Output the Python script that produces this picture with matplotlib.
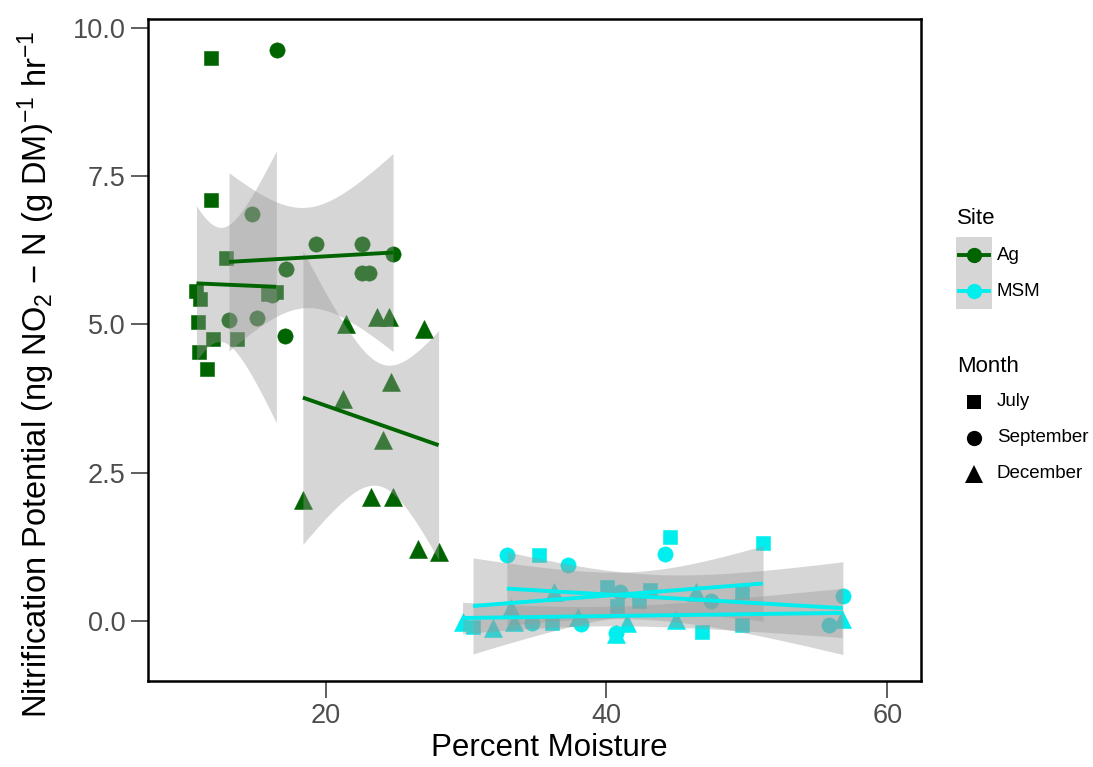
import math
import numpy as np
import matplotlib
matplotlib.use("Agg")
import matplotlib.pyplot as plt
from matplotlib import font_manager
from matplotlib.lines import Line2D
from matplotlib.patches import Rectangle

# ---- data: percent moisture (x) and nitrification potential (y) ----
ag_july_x = [11.83, 11.88, 12.89, 10.81, 11.04, 15.90, 16.50, 10.92, 12.00, 13.73, 11.00, 11.56]
ag_july_y = [9.50, 7.09, 6.12, 5.57, 5.43, 5.52, 5.54, 5.04, 4.76, 4.75, 4.53, 4.25]

ag_sep_x = [14.79, 19.34, 22.61, 24.81, 17.16, 22.58, 23.13, 13.13, 15.12, 17.09, 16.52, 16.20]
ag_sep_y = [6.86, 6.36, 6.35, 6.18, 5.94, 5.87, 5.87, 5.08, 5.11, 4.80, 9.62, 5.50]

ag_dec_x = [18.39, 21.28, 21.47, 23.25, 23.70, 24.12, 24.55, 24.67, 24.78, 26.56, 27.04, 28.05]
ag_dec_y = [2.04, 3.75, 5.01, 2.09, 5.12, 3.05, 5.12, 4.03, 2.09, 1.22, 4.93, 1.17]

msm_july_x = [30.50, 35.20, 36.10, 40.07, 40.78, 42.30, 43.10, 44.52, 46.80, 49.66, 49.66, 51.15]
msm_july_y = [-0.10, 1.12, -0.03, 0.58, 0.26, 0.34, 0.53, 1.42, -0.18, 0.49, -0.07, 1.32]

msm_sep_x = [32.91, 34.70, 37.29, 38.17, 41.00, 44.16, 47.48, 55.82, 56.84, 40.70]
msm_sep_y = [1.11, -0.04, 0.95, -0.05, 0.49, 1.13, 0.34, -0.07, 0.42, -0.20]

msm_dec_x = [29.76, 31.90, 33.20, 33.40, 36.30, 37.95, 40.66, 41.49, 44.97, 46.35, 56.77]
msm_dec_y = [-0.02, -0.12, 0.22, -0.02, 0.49, 0.06, -0.22, -0.04, 0.02, 0.49, 0.03]

sites = ["Ag", "MSM"]
months = ["July", "September", "December"]
x_ticks = [20, 40, 60]
y_ticks = [0.0, 2.5, 5.0, 7.5, 10.0]

series = {
    ("Ag", "July"): (ag_july_x, ag_july_y),
    ("Ag", "September"): (ag_sep_x, ag_sep_y),
    ("Ag", "December"): (ag_dec_x, ag_dec_y),
    ("MSM", "July"): (msm_july_x, msm_july_y),
    ("MSM", "September"): (msm_sep_x, msm_sep_y),
    ("MSM", "December"): (msm_dec_x, msm_dec_y),
}

site_color = {"Ag": "#006400", "MSM": "#00eeee"}
month_marker = {"July": ("s", 10.5), "September": ("o", 11.0), "December": ("^", 12.5)}
band_color = "#999999"
band_alpha = 0.4

# ---- fonts ----
names = {f.name for f in font_manager.fontManager.ttflist}
FONT = "Liberation Sans" if "Liberation Sans" in names else "DejaVu Sans"
plt.rcParams["font.family"] = [FONT, "DejaVu Sans"]
plt.rcParams["mathtext.fontset"] = "custom"
plt.rcParams["mathtext.rm"] = FONT
plt.rcParams["mathtext.it"] = FONT + ":italic"
plt.rcParams["mathtext.bf"] = FONT + ":bold"


def t_quantile(df, p=0.975):
    """Student t quantile by bisection on a numerically integrated CDF."""
    c = math.gamma((df + 1) / 2) / (math.sqrt(df * math.pi) * math.gamma(df / 2))

    def cdf(t):
        g = np.linspace(0.0, t, 4001)
        return 0.5 + np.trapezoid(c * (1 + g ** 2 / df) ** (-(df + 1) / 2), g)

    lo, hi = 0.0, 30.0
    for _ in range(60):
        mid = 0.5 * (lo + hi)
        if cdf(mid) < p:
            lo = mid
        else:
            hi = mid
    return 0.5 * (lo + hi)


def lm_band(x, y, n=80):
    x = np.asarray(x, float)
    y = np.asarray(y, float)
    b1, b0 = np.polyfit(x, y, 1)
    xs = np.linspace(x.min(), x.max(), n)
    fit = b0 + b1 * xs
    resid = y - (b0 + b1 * x)
    dof = len(x) - 2
    s = math.sqrt(np.sum(resid ** 2) / dof)
    se = s * np.sqrt(1.0 / len(x) + (xs - x.mean()) ** 2 / np.sum((x - x.mean()) ** 2))
    t = t_quantile(dof)
    return xs, fit, fit - t * se, fit + t * se


W, H = 1093, 767
fig = plt.figure(figsize=(W / 100, H / 100), dpi=100)
L, R, T, B = 148, 921, 19, 681
ax = fig.add_axes([L / W, 1 - B / H, (R - L) / W, (B - T) / H])

# points
for (site, month), (xv, yv) in series.items():
    mk, ms = month_marker[month]
    ax.plot(xv, yv, ls="none", marker=mk, ms=ms, color=site_color[site],
            mec=site_color[site], mew=0.4, zorder=2)

# linear fits with 95% confidence bands
fits = []
for site in sites:
    for month in months:
        xv, yv = series[(site, month)]
        xs, fit, lo, hi = lm_band(xv, yv)
        ax.fill_between(xs, lo, hi, color=band_color, alpha=band_alpha, lw=0, zorder=3)
        fits.append((xs, fit, site_color[site]))
for xs, fit, col in fits:
    ax.plot(xs, fit, color=col, lw=2.8, solid_capstyle="butt", zorder=4)

ax.set_xlim(7.36, 62.4)
ax.set_ylim(-1.012, 10.15)
ax.set_xticks(x_ticks)
ax.set_xticklabels([str(v) for v in x_ticks])
ax.set_yticks(y_ticks)
ax.set_yticklabels([f"{v:.1f}" for v in y_ticks])
ax.tick_params(direction="out", length=12, width=1.1, color="#333333",
               labelsize=19.5, labelcolor="#4d4d4d", pad=4)
for sp in ax.spines.values():
    sp.set_linewidth(1.8)
    sp.set_color("black")

ax.set_xlabel("Percent Moisture", fontsize=22.5)
ax.xaxis.set_label_coords((549 - L) / (R - L), -(748 - B) / (B - T), transform=ax.transAxes)
ax.xaxis.label.set_va("center")
ax.set_ylabel("Nitrification Potential (ng NO$_2$ \u2212 N (g DM)$^{-1}$ hr$^{-1}$",
              fontsize=23.5)
ax.yaxis.set_label_coords(-(L - 36) / (R - L), (B - 374) / (B - T), transform=ax.transAxes)
ax.yaxis.label.set_va("center")


# ---- legends drawn in figure pixel coordinates ----
def fx(px):
    return px / W


def fy(py):
    return 1 - py / H


tf = fig.transFigure
fig.text(fx(957), fy(219), "Site", fontsize=16, ha="left", va="center")
key_h = 36
for i, site in enumerate(sites):
    cy = 255 + i * key_h
    fig.add_artist(Line2D([fx(974)], [fy(cy)], transform=tf, ls="none", marker="o",
                          ms=11, color=site_color[site], mew=0))
    fig.add_artist(Rectangle((fx(956), fy(cy + key_h / 2)), (992 - 956) / W, key_h / H,
                             transform=tf, facecolor=band_color, alpha=band_alpha, lw=0))
    fig.add_artist(Line2D([fx(959), fx(989)], [fy(cy), fy(cy)], transform=tf,
                          color=site_color[site], lw=2.8))
    fig.text(fx(997), fy(cy), site, fontsize=13.5, ha="left", va="center")

fig.text(fx(957), fy(366), "Month", fontsize=16, ha="left", va="center")
for i, month in enumerate(months):
    cy = 402 + i * key_h
    mk, ms = month_marker[month]
    fig.add_artist(Line2D([fx(974)], [fy(cy)], transform=tf, ls="none", marker=mk,
                          ms=ms, color="black", mew=0))
    fig.text(fx(997), fy(cy), month, fontsize=13.5, ha="left", va="center")

fig.savefig("out.png", dpi=100)
